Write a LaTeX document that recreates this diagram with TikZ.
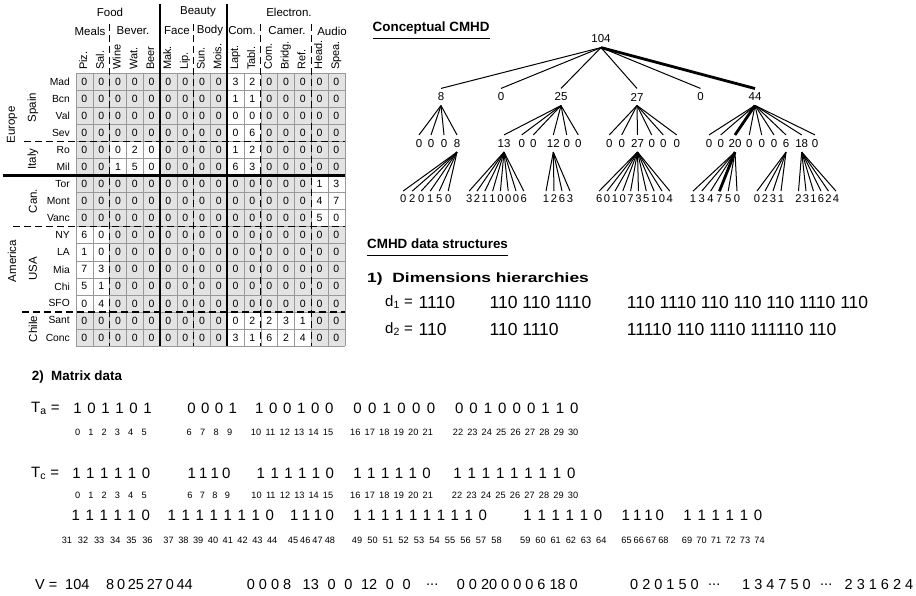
\documentclass[tikz,border=0pt]{standalone}
\usepackage{fontspec}
\setmainfont{Liberation Sans}
\usetikzlibrary{calc}

\newcommand\fsz[1]{\fontsize{#1}{#1}\selectfont}

% a run of bits of a bit vector, named <vector>-<position>
\newcommand\bitrun[6]{%
  \foreach \bb [count=\kk from 0] in {#6}{%
    \pgfmathtruncatemacro\bnum{#5+\kk}%
    \node[bit] (#1-\bnum) at ({#3+\kk*#4},#2) {\bb};}}
% the positions printed under a run of bits
\newcommand\idxrun[6]{%
  \foreach \ii [count=\kk from 0] in {#5,...,#6}{%
    \node[idx] (#1-\ii) at ({#3+\kk*#4},#2) {\ii};}}
% a group of tree leaves hanging from one parent
\newcommand\leafrun[6]{%
  \foreach \lv [count=\kk from 1] in {#6}{%
    \node[leaf] (#1-\kk) at ({#4+(\kk-1)*#5},#3) {\lv};
    \draw[treeline] (#2.south) -- (#1-\kk.north);}}

\begin{document}
\begin{tikzpicture}[x=1pt,y=-1pt,
  every node/.style={inner sep=0pt},
  val/.style={font=\fsz{10.5}},
  colhead/.style={font=\fsz{11}, rotate=90, anchor=mid west},
  rowhead/.style={font=\fsz{10.3}, anchor=east},
  grouphead/.style={font=\fsz{11.5}, rotate=90},
  cathead/.style={font=\fsz{11.5}},
  gridline/.style={draw=black!40, line width=0.6pt},
  dashsep/.style={line width=1.3pt, dash pattern=on 7pt off 4pt},
  thicksep/.style={line width=2.4pt},
  tn/.style={font=\fsz{11.5}, outer ysep=4.5pt},
  leaf/.style={font=\fsz{11.2}, outer ysep=3.5pt},
  treeline/.style={line width=1pt},
  heavy/.style={line width=2.8pt},
  headline/.style={font=\fsz{13.4}\bfseries, anchor=west},
  uline/.style={line width=1.3pt},
  dnum/.style={font=\fsz{17.5}, anchor=west},
  dlab/.style={font=\fsz{15}, anchor=west},
  bit/.style={font=\fsz{15}},
  idx/.style={font=\fsz{9.2}},
  vnum/.style={font=\fsz{14.5}, anchor=west},
]
\useasboundingbox (0,0) rectangle (916,596);

% ---------------- data cube as a table ----------------
\def\tabx{76}\def\taby{73.5}\def\cellw{16.8}\def\cellh{17.03}
\fill[black!11] (\tabx,\taby) rectangle ({\tabx+16*\cellw},{\taby+16*\cellh});
\foreach \ca/\cb/\ra/\rb in {9/11/0/6, 2/5/4/6, 14/16/6/9, 0/2/9/14, 9/14/14/16}
  \fill[white] ({\tabx+\ca*\cellw},{\taby+\ra*\cellh}) rectangle ({\tabx+\cb*\cellw},{\taby+\rb*\cellh});
\foreach \i in {0,...,16}{
  \draw[gridline] ({\tabx+\i*\cellw},\taby) -- ({\tabx+\i*\cellw},{\taby+16*\cellh});
  \draw[gridline] (\tabx,{\taby+\i*\cellh}) -- ({\tabx+16*\cellw},{\taby+\i*\cellh});
}
\foreach \row [count=\r from 0] in {
  {0,0,0,0,0,0,0,0,0,3,2,0,0,0,0,0},
  {0,0,0,0,0,0,0,0,0,1,1,0,0,0,0,0},
  {0,0,0,0,0,0,0,0,0,0,0,0,0,0,0,0},
  {0,0,0,0,0,0,0,0,0,0,6,0,0,0,0,0},
  {0,0,0,2,0,0,0,0,0,1,2,0,0,0,0,0},
  {0,0,1,5,0,0,0,0,0,6,3,0,0,0,0,0},
  {0,0,0,0,0,0,0,0,0,0,0,0,0,0,1,3},
  {0,0,0,0,0,0,0,0,0,0,0,0,0,0,4,7},
  {0,0,0,0,0,0,0,0,0,0,0,0,0,0,5,0},
  {6,0,0,0,0,0,0,0,0,0,0,0,0,0,0,0},
  {1,0,0,0,0,0,0,0,0,0,0,0,0,0,0,0},
  {7,3,0,0,0,0,0,0,0,0,0,0,0,0,0,0},
  {5,1,0,0,0,0,0,0,0,0,0,0,0,0,0,0},
  {0,4,0,0,0,0,0,0,0,0,0,0,0,0,0,0},
  {0,0,0,0,0,0,0,0,0,0,2,2,3,1,0,0},
  {0,0,0,0,0,0,0,0,0,3,1,6,2,4,0,0}}{
  \foreach \v [count=\cc from 0] in \row
    \node[val] (v-\r-\cc) at ({\tabx+(\cc+0.5)*\cellw},{\taby+(\r+0.5)*\cellh}) {\v};
}
% hierarchy separators
\foreach \cc in {2,7,11,14}
  \draw[dashsep] ({\tabx+\cc*\cellw},24) -- ({\tabx+\cc*\cellw},{\taby+16*\cellh});
\draw[dashsep] (24,{\taby+4*\cellh}) -- ({\tabx+16*\cellw},{\taby+4*\cellh});
\draw[dashsep] (13,{\taby+9*\cellh}) -- ({\tabx+16*\cellw},{\taby+9*\cellh});
\draw[dashsep] (22,{\taby+14*\cellh}) -- ({\tabx+16*\cellw},{\taby+14*\cellh});
\foreach \cc in {5,9}
  \draw[thicksep] ({\tabx+\cc*\cellw},4) -- ({\tabx+\cc*\cellw},{\taby+16*\cellh});
\draw[thicksep] (3,{\taby+6*\cellh}) -- ({\tabx+16*\cellw},{\taby+6*\cellh});

% column headings
\foreach \t [count=\cc from 0] in {Piz.,Sal.,Wine,Wat.,Beer,Mak.,Lip.,Sun.,Mois.,Lapt.,Tabl.,Com.,Bridg.,Ref.,Head.,Spea.}
  \node[colhead] (ch-\cc) at ({\tabx+(\cc+0.5)*\cellw},70) {\t};
\foreach \t/\xx [count=\cc] in {Meals/90,Bever./133,Face/177,Body/210,Com./242,Camer./287,Audio/332}
  \node[cathead] (sc-\cc) at (\xx,31) {\t};
\node[cathead] (food) at (110,12) {Food};
\node[cathead] (beauty) at (198,12) {Beauty};
\node[cathead] (electron) at (289,12) {Electron.};

% row headings
\foreach \t [count=\r from 0] in {Mad,Bcn,Val,Sev,Ro,Mil,Tor,Mont,Vanc,NY,LA,Mia,Chi,SFO,Sant,Conc}
  \node[rowhead] (rh-\r) at (70,{\taby+(\r+0.5)*\cellh}) {\t};
\node[grouphead] (europe) at (12,125) {Europe};
\node[grouphead] (america) at (12,261) {America};
\node[grouphead] (spain) at (33,107.5) {Spain};
\node[grouphead] (italy) at (33,159) {Italy};
\node[grouphead] (canada) at (33,201) {Can.};
\node[grouphead] (usa) at (33,269) {USA};
\node[grouphead] (chile) at (33,329) {Chile};

% ---------------- conceptual tree ----------------
\node[headline] (cthead) at (372.5,28.3) {Conceptual CMHD};
\draw[uline] ([yshift=-7pt]cthead.base west) -- ([yshift=-7pt]cthead.base east);

\node[tn] (root) at (601,39) {104};
\foreach \xx/\lab [count=\kk] in {441/8,501/0,561/25,637/27,700.5/0}{
  \node[tn] (n\kk) at (\xx,97) {\lab};
  \draw[treeline] (root.south) -- (n\kk.north);
}
\node[tn] (n6) at (755,97) {44};
\draw[heavy] (root.south) -- (n6.north);

\foreach \xx/\lab [count=\kk] in {419/0,431/0,444/0,457/8}{
  \node[tn] (a\kk) at (\xx,143.5) {\lab};
  \draw[treeline] (n1.south) -- (a\kk.north);
}
\foreach \xx/\lab [count=\kk] in {504/13,521.7/0,533.3/0,553.3/12,566.7/0,578.3/0}{
  \node[tn] (b\kk) at (\xx,143.5) {\lab};
  \draw[treeline] (n3.south) -- (b\kk.north);
}
\foreach \xx/\lab [count=\kk] in {609.3/0,621.7/0,637.5/27,651.7/0,663.3/0,676.7/0}{
  \node[tn] (c\kk) at (\xx,143.5) {\lab};
  \draw[treeline] (n4.south) -- (c\kk.north);
}
\foreach \xx/\lab [count=\kk] in {709/0,720.7/0,735/20,749.3/0,761.7/0,774/0,786/6,801.7/18,815/0}{
  \node[tn] (e\kk) at (\xx,143.5) {\lab};
  \draw[treeline] (n6.south) -- (e\kk.north);
}
\draw[heavy] (n6.south) -- (e3.north);

\leafrun{la}{a4}{198.5}{403.2}{9}{0,2,0,1,5,0}
\leafrun{lb}{b1}{198.5}{469.2}{7.8}{3,2,1,1,0,0,0,6}
\leafrun{lc}{b4}{198.5}{546}{8}{1,2,6,3}
\leafrun{ld}{c3}{198.5}{599.2}{7.85}{6,0,1,0,7,3,5,1,0,4}
\leafrun{le}{e3}{198.5}{693}{8.8}{1,3,4,7,5,0}
\leafrun{lf}{e7}{198.5}{757}{8}{0,2,3,1}
\leafrun{lg}{e8}{198.5}{798.5}{7.5}{2,3,1,6,2,4}
\draw[heavy] (e3.south) -- (le-4.north);

% ---------------- data structures ----------------
\node[headline] (dshead) at (367,244) {CMHD data structures};
\draw[uline] ([yshift=-7pt]dshead.base west) -- ([yshift=-7pt]dshead.base east);
\node[headline] (dimhead) at (367,279) {\scalebox{1.3}[1]{1)\ \ Dimensions hierarchies}};

\node[dlab] (d1) at (385,302) {d\textsubscript{1} =};
\node[dnum] (d1a) at (418.5,302) {1110};
\node[dnum] (d1b) at (489.4,302) {110 110 1110};
\node[dnum] (d1c) at (626.7,302) {110 1110 110 110 110 1110 110};
\node[dlab] (d2) at (385,329) {d\textsubscript{2} =};
\node[dnum] (d2a) at (418.5,329) {110};
\node[dnum] (d2b) at (489.4,329) {110 1110};
\node[dnum] (d2c) at (626.7,329) {11110 110 1110 111110 110};

\node[headline] (mxhead) at (31.7,376.7) {2)\ \ Matrix data};

% T_a
\node[bit, anchor=west] (talab) at (31,408) {T\textsubscript{a} =};
\bitrun{ta}{408}{77.5}{14}{0}{1,0,1,1,0,1}
\bitrun{ta}{408}{191.5}{13.8}{6}{0,0,0,1}
\bitrun{ta}{408}{259.2}{14}{10}{1,0,0,1,0,0}
\bitrun{ta}{408}{357.5}{14.7}{16}{0,0,1,0,0,0}
\bitrun{ta}{408}{459.2}{14.4}{22}{0,0,1,0,0,0,1,1,0}
\idxrun{tai}{432}{77.6}{13.3}{0}{5}
\idxrun{tai}{432}{189.3}{13.5}{6}{9}
\idxrun{tai}{432}{256}{14.4}{10}{15}
\idxrun{tai}{432}{355.3}{14.5}{16}{21}
\idxrun{tai}{432}{458}{14.4}{22}{30}

% T_c
\node[bit, anchor=west] (tclab) at (31,473) {T\textsubscript{c} =};
\bitrun{tc}{473}{76.5}{13.9}{0}{1,1,1,1,1,0}
\bitrun{tc}{473}{191.8}{11.5}{6}{1,1,1,0}
\bitrun{tc}{473}{260.9}{13.8}{10}{1,1,1,1,1,0}
\bitrun{tc}{473}{357.6}{13.8}{16}{1,1,1,1,1,0}
\bitrun{tc}{473}{457.6}{14.2}{22}{1,1,1,1,1,1,1,1,0}
\idxrun{tci}{495}{77.6}{13.3}{0}{5}
\idxrun{tci}{495}{190}{12.5}{6}{9}
\idxrun{tci}{495}{256.5}{14.3}{10}{15}
\idxrun{tci}{495}{355.3}{14.5}{16}{21}
\idxrun{tci}{495}{457}{14.5}{22}{30}

\bitrun{tc}{515}{75.9}{14}{31}{1,1,1,1,1,0}
\bitrun{tc}{515}{171.9}{14}{37}{1,1,1,1,1,1,1,0}
\bitrun{tc}{515}{294.2}{11.9}{45}{1,1,1,0}
\bitrun{tc}{515}{357.6}{13.9}{49}{1,1,1,1,1,1,1,1,1,0}
\bitrun{tc}{515}{527.6}{14.1}{59}{1,1,1,1,1,0}
\bitrun{tc}{515}{625.9}{11.3}{65}{1,1,1,0}
\bitrun{tc}{515}{687.6}{14.1}{69}{1,1,1,1,1,0}
\idxrun{tci}{540}{67}{16.1}{31}{36}
\idxrun{tci}{540}{168.6}{14.8}{37}{44}
\idxrun{tci}{540}{293}{12.3}{45}{48}
\idxrun{tci}{540}{357}{15.5}{49}{58}
\idxrun{tci}{540}{525.3}{15.2}{59}{64}
\idxrun{tci}{540}{626.5}{12.3}{65}{68}
\idxrun{tci}{540}{687}{14.5}{69}{74}

% V
\node[vnum] (vlab) at (35,585) {V =};
\node[vnum] (v0) at (65,585) {104};
\node[vnum] (v1) at (106,585) {8\hspace{2.8pt}0\hspace{2.8pt}25\hspace{2.8pt}27\hspace{2.8pt}0\hspace{2.8pt}44};
\node[vnum] (v2) at (246.7,585) {0 0 0 8};
\node[vnum] (v3) at (302.5,585) {\makebox[108pt][s]{13 0 0 12 0 0}};
\node[vnum] (v4) at (426,585) {...};
\node[vnum] (v5) at (456.7,585) {0 0 20 0 0 0 6 18 0};
\node[vnum] (v6) at (630,585) {0 2 0 1 5 0};
\node[vnum] (v7) at (708,585) {...};
\node[vnum] (v8) at (742,585) {1 3 4 7 5 0};
\node[vnum] (v9) at (820,585) {...};
\node[vnum] (v10) at (844.5,585) {2 3 1 6 2 4};
\end{tikzpicture}
\end{document}
